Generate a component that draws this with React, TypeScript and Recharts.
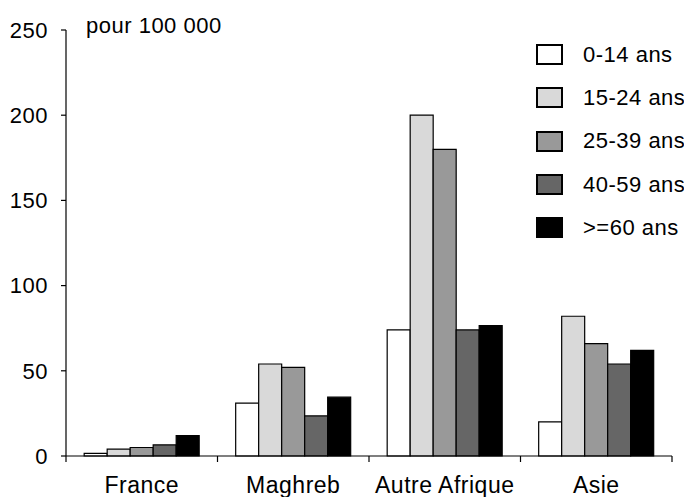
import { BarChart, Bar, XAxis, YAxis, Label } from "recharts"

const categories = ["France", "Maghreb", "Autre Afrique", "Asie"]
const ageGroups = ["0-14 ans", "15-24 ans", "25-39 ans", "40-59 ans", ">=60 ans"]
const age0to14 = [1.5, 31, 74, 20]
const age15to24 = [4, 54, 200, 82]
const age25to39 = [5, 52, 180, 66]
const age40to59 = [6.5, 23.5, 74, 54]
const age60plus = [12, 34.5, 76.5, 62]
const yTicks = [0, 50, 100, 150, 200, 250]

const seriesKeys = ["a0", "a15", "a25", "a40", "a60"]
const seriesValues = [age0to14, age15to24, age25to39, age40to59, age60plus]
const fills = ["#ffffff", "#d9d9d9", "#999999", "#666666", "#000000"]

const data = categories.map((name, i) => {
  const row: Record<string, string | number> = { name }
  seriesKeys.forEach((k, j) => {
    row[k] = seriesValues[j][i]
  })
  return row
})

const FONT = "'Liberation Sans', Arial, sans-serif"
const X_TICK_MARGIN = 21

// category label plus tick marks on the band edges (ticks sit between categories)
function CategoryTick(props: any) {
  const { x, y, payload, index, visibleTicksCount } = props
  const half = payload?.offset ?? 0
  const lineY = y - X_TICK_MARGIN
  const last = index === visibleTicksCount - 1
  return (
    <g>
      <line x1={x - half} x2={x - half} y1={lineY} y2={lineY + 6} stroke="#000" strokeWidth={1.2} />
      {last && (
        <line x1={x + half} x2={x + half} y1={lineY} y2={lineY + 6} stroke="#000" strokeWidth={1.2} />
      )}
      <text x={x} y={y} dy="0.71em" textAnchor="middle" fontSize={23} letterSpacing={0.5} fill="#000">
        {payload.value}
      </text>
    </g>
  )
}

function LegendBox() {
  return (
    <div
      style={{
        position: "absolute",
        left: 536,
        top: 33,
        fontFamily: FONT,
        fontSize: 22,
        letterSpacing: 0.5,
        color: "#000",
      }}
    >
      {ageGroups.map((g, i) => (
        <div key={g} style={{ display: "flex", alignItems: "center", height: 43.3 }}>
          <div
            style={{
              width: 27,
              height: 21,
              boxSizing: "border-box",
              border: "2px solid #000",
              background: fills[i],
              marginRight: 20,
            }}
          />
          <span style={{ whiteSpace: "nowrap" }}>{g}</span>
        </div>
      ))}
    </div>
  )
}

export default function App() {
  return (
    <div style={{ position: "absolute", left: 0, top: 0, width: 684, height: 497, fontFamily: FONT }}>
      <BarChart
        width={684}
        height={497}
        data={data}
        margin={{ top: 30, right: 12, left: 0, bottom: 0 }}
        barCategoryGap="12%"
        barGap={0}
      >
        <XAxis
          dataKey="name"
          height={41}
          axisLine={{ stroke: "#000", strokeWidth: 1.2 }}
          tickLine={false}
          tickSize={0}
          tickMargin={X_TICK_MARGIN}
          interval={0}
          tick={<CategoryTick />}
        />
        <YAxis
          domain={[0, 250]}
          ticks={yTicks}
          width={66}
          tickSize={5}
          tickMargin={13}
          axisLine={{ stroke: "#000", strokeWidth: 1.2 }}
          tickLine={{ stroke: "#000", strokeWidth: 1.2 }}
          tick={{ fill: "#000", fontSize: 22, letterSpacing: 0.5 }}
        >
          <Label
            content={(props: any) => {
              const vb = props.viewBox || {}
              return (
                <text
                  x={vb.x + vb.width + 20}
                  y={vb.y + 3}
                  fontSize={22}
                  letterSpacing={0.5}
                  fill="#000"
                >
                  pour 100 000
                </text>
              )
            }}
          />
        </YAxis>
        {seriesKeys.map((k, j) => (
          <Bar
            key={k}
            dataKey={k}
            name={ageGroups[j]}
            fill={fills[j]}
            stroke="#000"
            strokeWidth={1.2}
            isAnimationActive={false}
          />
        ))}
      </BarChart>
      <LegendBox />
    </div>
  )
}
